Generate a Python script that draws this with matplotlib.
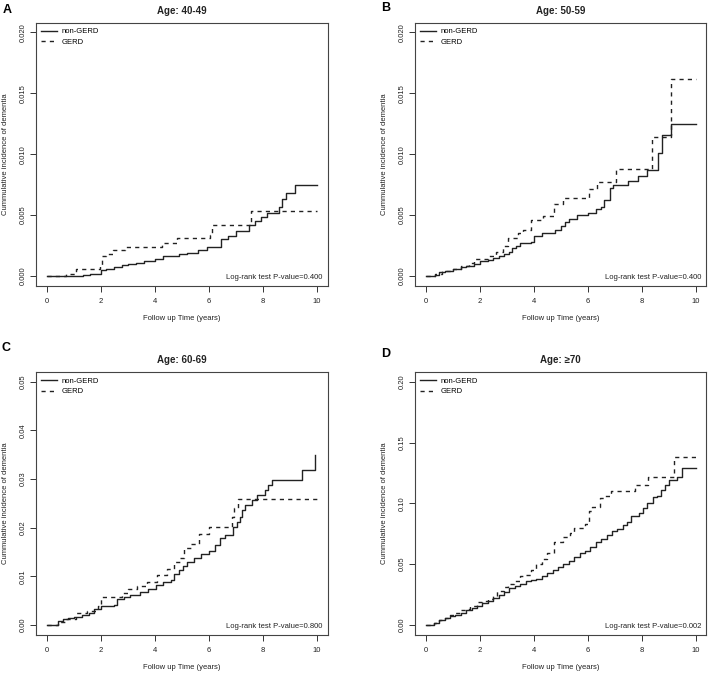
import matplotlib
matplotlib.use("Agg")
import matplotlib.pyplot as plt

plt.rcParams['font.family'] = ['Liberation Sans', 'DejaVu Sans']

# ---- data ----
titles = ["Age: 40-49", "Age: 50-59", "Age: 60-69", "Age: \u226570"]
panel_letters = ["A", "B", "C", "D"]
pvalues = ["0.400", "0.400", "0.800", "0.002"]

# Age 40-49
a_non_t = [0, 1.35, 1.6, 2.0, 2.2, 2.5, 2.8, 3.0, 3.3, 3.6, 4.0, 4.3, 4.9, 5.2, 5.6,
           5.95, 6.45, 6.7, 7.0, 7.5, 7.7, 7.95, 8.15, 8.6, 8.7, 8.85, 9.2, 10]
a_non_y = [0, 0.0001, 0.0002, 0.0005, 0.0006, 0.0007, 0.0009, 0.001, 0.0011, 0.0012,
           0.0014, 0.0016, 0.0018, 0.0019, 0.0021, 0.0024, 0.003, 0.0033, 0.0037,
           0.0042, 0.0045, 0.0048, 0.0052, 0.0057, 0.0063, 0.0068, 0.0075, 0.0075]
a_gerd_t = [0, 0.7, 1.1, 1.98, 2.05, 2.2, 2.45, 2.9, 4.25, 4.82, 6.05, 6.12, 7.55, 10]
a_gerd_y = [0, 0.0002, 0.0006, 0.0009, 0.0016, 0.0018, 0.0021, 0.0024, 0.0027,
            0.0031, 0.0034, 0.0042, 0.0053, 0.0053]

# Age 50-59
b_non_t = [0, 0.35, 0.5, 0.7, 1.0, 1.3, 1.5, 1.8, 2.0, 2.3, 2.5, 2.7, 2.9, 3.1, 3.2,
           3.35, 3.5, 3.9, 4.0, 4.3, 4.8, 5.0, 5.15, 5.3, 5.6, 6.0, 6.3, 6.5, 6.6,
           6.84, 6.95, 7.5, 7.86, 8.2, 8.6, 8.76, 9.07, 10]
b_non_y = [0, 0.0001, 0.0003, 0.0004, 0.0006, 0.0007, 0.0008, 0.001, 0.0012, 0.0013,
           0.0015, 0.0016, 0.0018, 0.002, 0.0023, 0.0025, 0.0027, 0.0028, 0.0033,
           0.0035, 0.0038, 0.0041, 0.0044, 0.0047, 0.005, 0.0052, 0.0055, 0.0057,
           0.0062, 0.0072, 0.0075, 0.0078, 0.0082, 0.0087, 0.0101, 0.0116, 0.0125, 0.0125]
b_gerd_t = [0, 0.35, 0.6, 1.0, 1.3, 1.6, 1.8, 2.3, 2.6, 2.85, 3.05, 3.4, 3.6, 3.9,
            4.35, 4.75, 5.1, 6.05, 6.35, 7.03, 8.39, 9.07, 10]
b_gerd_y = [0, 0.0002, 0.0004, 0.0006, 0.0008, 0.0011, 0.0014, 0.0016, 0.002, 0.0025,
            0.0031, 0.0035, 0.0038, 0.0046, 0.0049, 0.0059, 0.0064, 0.0071, 0.0077,
            0.0088, 0.0114, 0.0162, 0.0162]

# Age 60-69
c_non_t = [0, 0.43, 0.6, 0.8, 1.0, 1.3, 1.55, 1.75, 2.0, 2.5, 2.6, 2.85, 3.1, 3.45,
           3.75, 4.05, 4.3, 4.6, 4.7, 4.9, 5.05, 5.2, 5.45, 5.7, 6.0, 6.25, 6.42,
           6.6, 6.9, 7.04, 7.15, 7.22, 7.34, 7.59, 7.78, 8.09, 8.21, 8.33, 9.44, 9.94]
c_non_y = [0, 0.0008, 0.0012, 0.0015, 0.0017, 0.0021, 0.0025, 0.0033, 0.0038, 0.0042,
           0.0053, 0.0058, 0.0062, 0.0068, 0.0073, 0.0082, 0.0088, 0.0092, 0.0105,
           0.0113, 0.0122, 0.013, 0.0137, 0.0145, 0.0152, 0.0164, 0.0178, 0.0185,
           0.0202, 0.0212, 0.0222, 0.0236, 0.0247, 0.0257, 0.0267, 0.0277, 0.0288,
           0.0299, 0.0318, 0.0349]
c_gerd_t = [0, 0.4, 0.7, 1.1, 1.5, 1.9, 2.0, 2.8, 3.0, 3.35, 3.7, 4.1, 4.45, 4.7,
            4.95, 5.1, 5.35, 5.65, 6.0, 6.85, 6.95, 7.1, 10]
c_gerd_y = [0, 0.0006, 0.0012, 0.0024, 0.0028, 0.004, 0.0058, 0.0065, 0.0074, 0.0081,
            0.0088, 0.0102, 0.0116, 0.0129, 0.0137, 0.0158, 0.0166, 0.0188, 0.0202,
            0.0222, 0.024, 0.0258, 0.0258]

# Age >=70
d_non_t = [0, 0.3, 0.5, 0.7, 0.9, 1.1, 1.3, 1.5, 1.7, 1.9, 2.1, 2.3, 2.5, 2.7, 2.9,
           3.1, 3.3, 3.5, 3.7, 3.9, 4.1, 4.3, 4.5, 4.7, 4.9, 5.1, 5.3, 5.5, 5.7, 5.9,
           6.1, 6.3, 6.5, 6.7, 6.9, 7.1, 7.3, 7.45, 7.6, 7.9, 8.05, 8.2, 8.4, 8.55,
           8.7, 8.85, 9.0, 9.3, 9.5, 10]
d_non_y = [0, 0.002, 0.004, 0.0055, 0.007, 0.0085, 0.010, 0.012, 0.014, 0.016, 0.018,
           0.020, 0.022, 0.025, 0.027, 0.030, 0.032, 0.034, 0.036, 0.037, 0.038,
           0.040, 0.043, 0.045, 0.048, 0.050, 0.053, 0.056, 0.059, 0.061, 0.064,
           0.068, 0.071, 0.074, 0.077, 0.079, 0.082, 0.085, 0.090, 0.092, 0.096,
           0.100, 0.105, 0.106, 0.111, 0.115, 0.119, 0.122, 0.129, 0.129]
d_gerd_t = [0, 0.3, 0.5, 0.7, 0.9, 1.1, 1.3, 1.5, 1.65, 1.9, 2.1, 2.3, 2.5, 2.65,
            2.9, 3.05, 3.25, 3.5, 3.65, 3.9, 4.1, 4.3, 4.5, 4.75, 5.1, 5.35, 5.5,
            5.9, 6.05, 6.15, 6.45, 6.6, 6.85, 7.75, 8.25, 9.2, 10]
d_gerd_y = [0, 0.002, 0.004, 0.006, 0.008, 0.010, 0.012, 0.013, 0.016, 0.019, 0.020,
            0.021, 0.024, 0.028, 0.031, 0.034, 0.036, 0.040, 0.041, 0.045, 0.050,
            0.054, 0.059, 0.068, 0.072, 0.076, 0.080, 0.083, 0.094, 0.097, 0.104,
            0.106, 0.110, 0.115, 0.122, 0.138, 0.138]

series = [
    (a_non_t, a_non_y, a_gerd_t, a_gerd_y),
    (b_non_t, b_non_y, b_gerd_t, b_gerd_y),
    (c_non_t, c_non_y, c_gerd_t, c_gerd_y),
    (d_non_t, d_non_y, d_gerd_t, d_gerd_y),
]
y_max = [0.020, 0.020, 0.05, 0.20]
y_step = [0.005, 0.005, 0.01, 0.05]
y_fmt = ["{:.3f}", "{:.3f}", "{:.2f}", "{:.2f}"]

# ---- layout ----
W, H = 708, 673
fig = plt.figure(figsize=(W / 100, H / 100), dpi=100)

# axes boxes in pixels (left, top, right, bottom)
boxes = [(36, 22.6, 327.5, 285.7), (415, 22.6, 706.5, 285.7),
         (36, 372, 327.5, 634.7), (415, 372, 706.5, 634.7)]
letter_pos = [(3, 10), (381, 8), (2, 348), (381, 354)]

ink = "#222222"
fs = 5.5

for i in range(4):
    l, t, r, b = boxes[i]
    ax = fig.add_axes([l / W, 1 - b / H, (r - l) / W, (b - t) / H])
    nt, ny, gt, gy = series[i]
    ax.plot(nt, ny, drawstyle="steps-post", color=ink, lw=1.0, label="non-GERD")
    ax.plot(gt, gy, drawstyle="steps-post", color=ink, lw=1.0,
            dashes=(3, 3), label="GERD")

    ym = y_max[i]
    ax.set_xlim(-0.4, 10.4)
    ax.set_ylim(-0.04 * ym, 1.04 * ym)
    ax.set_xticks(range(0, 11, 2))
    n = int(round(ym / y_step[i]))
    yt = [k * y_step[i] for k in range(n + 1)]
    ax.set_yticks(yt)
    ax.set_yticklabels([y_fmt[i].format(v) for v in yt])

    ax.tick_params(axis="both", direction="out", length=4, width=0.7,
                   color="#333333", labelsize=fs, labelcolor=ink)
    ax.tick_params(axis="x", pad=4.5)
    ax.tick_params(axis="y", labelrotation=90, pad=3)
    for lab in ax.get_yticklabels():
        lab.set_va("center")
    for s in ax.spines.values():
        s.set_linewidth(0.8)
        s.set_color("#444444")

    ax.set_xlabel("Follow up Time (years)", fontsize=fs, color=ink)
    ax.xaxis.set_label_coords(0.5, -33 / (b - t))
    ax.xaxis.label.set_va("center")
    ax.set_ylabel("Cummulative incidence of dementia", fontsize=fs, color=ink)
    ax.yaxis.set_label_coords(-30 / (r - l), 0.5)
    ax.yaxis.label.set_va("center")

    ax.set_title(titles[i], fontsize=7, fontweight="bold", pad=6.5, color=ink)

    ax.legend(loc="upper left", frameon=False, fontsize=fs, handlelength=2.0,
              handletextpad=0.7, labelspacing=0.45, borderaxespad=0.3,
              borderpad=0.4)

    ax.text(0.984, 0.033, "Log-rank test P-value=" + pvalues[i],
            transform=ax.transAxes, ha="right", va="center",
            fontsize=fs, color=ink)

    lx, ly = letter_pos[i]
    fig.text(lx / W, 1 - ly / H, panel_letters[i], fontsize=9,
             fontweight="bold", ha="left", va="center", color="black")

fig.savefig("out.png", dpi=100)
